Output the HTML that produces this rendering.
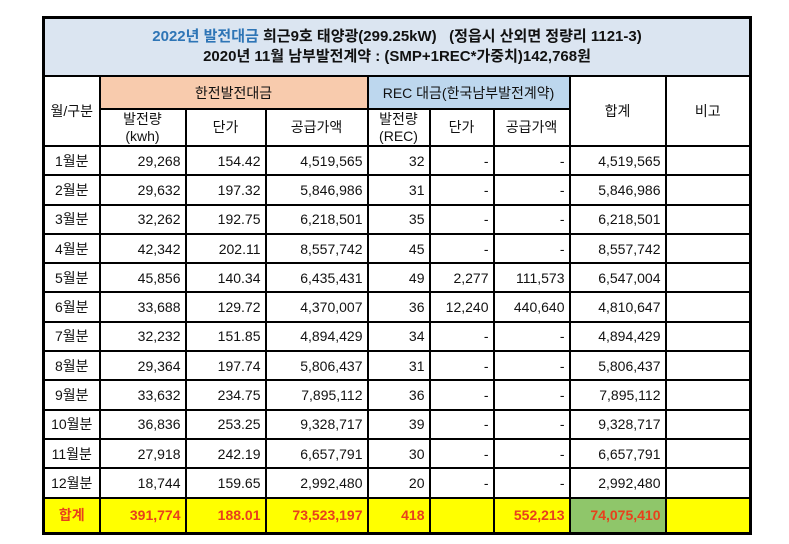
<!DOCTYPE html>
<html><head><meta charset="utf-8"><style>
body{margin:0;background:#fff;width:789px;height:544px;overflow:hidden;font-family:"Liberation Sans","Noto Sans CJK KR",sans-serif;}
table{position:absolute;left:42px;top:16px;border-collapse:collapse;border:3px solid #000;table-layout:fixed;font-size:14px;color:#111}
td{border:2px solid #000;padding:0 4px;height:27.3px;text-align:right;white-space:nowrap;overflow:hidden}
td.c{text-align:center}
.t{background:#dbe5f1;text-align:center;height:56px;font-size:15px;font-weight:bold;line-height:20px}
.t span{color:#2e75b6}
.o{background:#f8cbad}
.b{background:#bdd7ee}
.h{text-align:center;line-height:17px}
.tot td{background:#ffff00;color:#e8401c;font-weight:bold;height:33px}
.tot td.g{background:#8fc66a}
</style></head><body>
<table>
<colgroup><col style="width:56px"><col style="width:86px"><col style="width:80px"><col style="width:102px"><col style="width:62px"><col style="width:64px"><col style="width:76px"><col style="width:96px"><col style="width:85px"></colgroup>
<tr><td class="t" colspan="9"><span>2022년 발전대금</span> 희근9호 태양광(299.25kW) &nbsp;&nbsp;(정읍시 산외면 정량리 1121-3)<br>2020년 11월 남부발전계약 : (SMP+1REC*가중치)142,768원</td></tr>
<tr><td class="c" rowspan="2">월/구분</td><td class="c o" colspan="3" style="height:31px">한전발전대금</td><td class="c b" colspan="3">REC 대금(한국남부발전계약)</td><td class="c" rowspan="2">합계</td><td class="c" rowspan="2">비고</td></tr>
<tr><td class="h" style="height:35px">발전량<br>(kwh)</td><td class="h">단가</td><td class="h">공급가액</td><td class="h">발전량<br>(REC)</td><td class="h">단가</td><td class="h">공급가액</td></tr>
<tr><td class="c">1월분</td><td>29,268</td><td>154.42</td><td>4,519,565</td><td>32</td><td>-</td><td>-</td><td>4,519,565</td><td></td></tr>
<tr><td class="c">2월분</td><td>29,632</td><td>197.32</td><td>5,846,986</td><td>31</td><td>-</td><td>-</td><td>5,846,986</td><td></td></tr>
<tr><td class="c">3월분</td><td>32,262</td><td>192.75</td><td>6,218,501</td><td>35</td><td>-</td><td>-</td><td>6,218,501</td><td></td></tr>
<tr><td class="c">4월분</td><td>42,342</td><td>202.11</td><td>8,557,742</td><td>45</td><td>-</td><td>-</td><td>8,557,742</td><td></td></tr>
<tr><td class="c">5월분</td><td>45,856</td><td>140.34</td><td>6,435,431</td><td>49</td><td>2,277</td><td>111,573</td><td>6,547,004</td><td></td></tr>
<tr><td class="c">6월분</td><td>33,688</td><td>129.72</td><td>4,370,007</td><td>36</td><td>12,240</td><td>440,640</td><td>4,810,647</td><td></td></tr>
<tr><td class="c">7월분</td><td>32,232</td><td>151.85</td><td>4,894,429</td><td>34</td><td>-</td><td>-</td><td>4,894,429</td><td></td></tr>
<tr><td class="c">8월분</td><td>29,364</td><td>197.74</td><td>5,806,437</td><td>31</td><td>-</td><td>-</td><td>5,806,437</td><td></td></tr>
<tr><td class="c">9월분</td><td>33,632</td><td>234.75</td><td>7,895,112</td><td>36</td><td>-</td><td>-</td><td>7,895,112</td><td></td></tr>
<tr><td class="c">10월분</td><td>36,836</td><td>253.25</td><td>9,328,717</td><td>39</td><td>-</td><td>-</td><td>9,328,717</td><td></td></tr>
<tr><td class="c">11월분</td><td>27,918</td><td>242.19</td><td>6,657,791</td><td>30</td><td>-</td><td>-</td><td>6,657,791</td><td></td></tr>
<tr><td class="c">12월분</td><td>18,744</td><td>159.65</td><td>2,992,480</td><td>20</td><td>-</td><td>-</td><td>2,992,480</td><td></td></tr>
<tr class="tot"><td class="c">합계</td><td>391,774</td><td>188.01</td><td>73,523,197</td><td>418</td><td></td><td>552,213</td><td class="g">74,075,410</td><td></td></tr>
</table>
</body></html>
